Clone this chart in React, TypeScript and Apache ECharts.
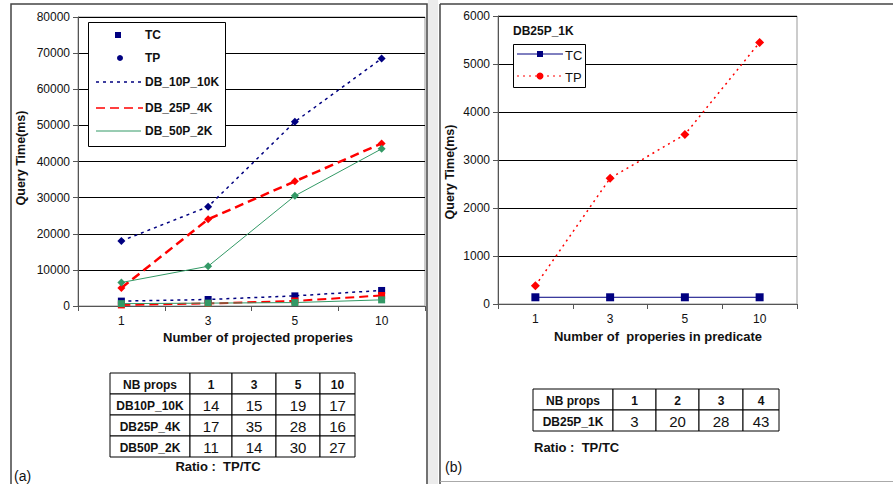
import React, { useEffect, useRef } from "react";
import * as echarts from "echarts";

// ---------- data ----------
const categoriesA = ["1", "3", "5", "10"];
const tp10P10K = [18000, 27500, 51000, 68500];
const tp25P4K = [5000, 24000, 34500, 45000];
const tp50P2K = [6500, 11000, 30500, 43500];
const tc10P10K = [1350, 1800, 2800, 4300];
const tc25P4K = [300, 700, 1400, 2900];
const tc50P2K = [650, 800, 950, 1700];

const categoriesB = ["1", "3", "5", "10"];
const tcB = [140, 140, 140, 140];
const tpB = [380, 2620, 3530, 5450];

const tableAHeader = ["NB props", "1", "3", "5", "10"];
const tableARowNames = ["DB10P_10K", "DB25P_4K", "DB50P_2K"];
const tableAValues = [
  [14, 15, 19, 17],
  [17, 35, 28, 16],
  [11, 14, 30, 27],
];
const tableBHeader = ["NB props", "1", "2", "3", "4"];
const tableBRowNames = ["DB25P_1K"];
const tableBValues = [[3, 20, 28, 43]];

// ---------- styles ----------
const FONT = "Arial, 'Liberation Sans', sans-serif";
const NAVY = "#000080";
const RED = "#ff0000";
const GREEN = "#339966";
const DOT = [3, 4];
const DASH = [9, 5];

function txt(x: number, y: number, text: string, opts: any = {}) {
  return {
    type: "text",
    x,
    y,
    rotation: opts.rotation || 0,
    z: 10,
    style: {
      text,
      fill: opts.fill || "#111",
      fontFamily: FONT,
      fontSize: opts.fontSize || 12,
      fontWeight: opts.bold ? "bold" : "normal",
      align: opts.align || "left",
      verticalAlign: "middle",
    },
  };
}

function line(x1: number, y1: number, x2: number, y2: number, stroke: string, lineWidth = 1, lineDash?: number[]) {
  return {
    type: "line",
    z: 10,
    shape: { x1, y1, x2, y2 },
    style: { stroke, lineWidth, lineDash: lineDash || null },
  };
}

function table(colX: number[], rowY: number[], header: string[], rowNames: string[], values: number[][]) {
  const els: any[] = [];
  const nRows = rowNames.length + 1;
  for (let r = 0; r < nRows; r++) {
    for (let c = 0; c < header.length; c++) {
      const x0 = colX[c], x1 = colX[c + 1], y0 = rowY[r], y1 = rowY[r + 1];
      els.push({
        type: "rect",
        z: 10,
        shape: { x: x0, y: y0, width: x1 - x0, height: y1 - y0 },
        style: { fill: "#fff", stroke: "#000", lineWidth: 1 },
      });
      let t: string;
      let bold = true;
      let fs = 12;
      if (r === 0) t = header[c];
      else if (c === 0) t = rowNames[r - 1];
      else {
        t = String(values[r - 1][c - 1]);
        bold = false;
        fs = 15;
      }
      els.push(txt((x0 + x1) / 2, (y0 + y1) / 2 + 1, t, { align: "center", bold, fontSize: fs }));
    }
  }
  return els;
}

export default function App() {
  const ref = useRef<HTMLDivElement>(null);

  useEffect(() => {
    document.body.style.margin = "0";
    const chart = echarts.init(ref.current!, null, { renderer: "svg" });

    const axisLabel = { color: "#111", fontFamily: FONT, fontSize: 12 };

    const graphic: any[] = [
      // panel frames
      { type: "rect", z: 0, shape: { x: 428, y: 0, width: 10, height: 484 }, style: { fill: "#ececec" } },
      { type: "rect", z: 1, shape: { x: 11, y: 4, width: 416, height: 500 }, style: { fill: "none", stroke: "#444", lineWidth: 1.5 } },
      line(440, 4, 893, 4, "#444", 1.5),
      line(440, 4, 440, 484, "#444", 1.5),
      line(440, 481.5, 893, 481.5, "#aaa", 1),

      // axis titles
      txt(21, 158, "Query Time(ms)", { bold: true, fontSize: 12.5, rotation: Math.PI / 2, align: "center" }),
      txt(258, 337.5, "Number of projected properies", { bold: true, fontSize: 13, align: "center" }),
      txt(450, 172, "Query Time(ms)", { bold: true, fontSize: 12.5, rotation: Math.PI / 2, align: "center" }),
      txt(658, 336, "Number of  properies in predicate", { bold: true, fontSize: 13, align: "center" }),

      // left legend
      { type: "rect", z: 9, shape: { x: 88.5, y: 22.5, width: 137, height: 124 }, style: { fill: "#fff", stroke: "#000", lineWidth: 1 } },
      { type: "rect", z: 10, shape: { x: 115, y: 32, width: 6, height: 6 }, style: { fill: NAVY } },
      txt(145, 35, "TC", { bold: true }),
      { type: "circle", z: 10, shape: { cx: 120, cy: 58, r: 3 }, style: { fill: NAVY } },
      txt(145, 58, "TP", { bold: true }),
      line(96, 82, 141, 82, NAVY, 1.5, DOT),
      txt(145, 82, "DB_10P_10K", { bold: true }),
      line(96, 108, 143, 108, RED, 1.5, DASH),
      txt(145, 108, "DB_25P_4K", { bold: true }),
      line(96, 131, 141, 131, GREEN, 1),
      txt(145, 131, "DB_50P_2K", { bold: true }),

      // right legend
      txt(513, 31, "DB25P_1K", { bold: true }),
      { type: "rect", z: 9, shape: { x: 513.5, y: 44.5, width: 72, height: 43 }, style: { fill: "#fff", stroke: "#000", lineWidth: 1 } },
      line(517, 54, 563, 54, NAVY, 1),
      { type: "rect", z: 10, shape: { x: 537, y: 51, width: 6, height: 6 }, style: { fill: NAVY } },
      txt(565, 55, "TC", { fontSize: 13 }),
      line(517, 76, 563, 76, RED, 1.2, [2, 4]),
      { type: "circle", z: 10, shape: { cx: 540, cy: 76, r: 3.5 }, style: { fill: RED } },
      txt(565, 77, "TP", { fontSize: 13 }),

      // tables
      ...table([110, 190, 232, 276, 320, 355], [373, 394, 415, 436, 457], tableAHeader, tableARowNames, tableAValues),
      txt(218, 466, "Ratio :  TP/TC", { bold: true, fontSize: 13, align: "center" }),
      txt(14, 476, "(a)", { fontSize: 14 }),
      ...table([533, 613, 656, 699, 743, 779], [389, 410, 431], tableBHeader, tableBRowNames, tableBValues),
      txt(534, 447, "Ratio :  TP/TC", { bold: true, fontSize: 13 }),
      txt(445, 467, "(b)", { fontSize: 14 }),
    ];

    const xAxisCommon = {
      type: "category",
      boundaryGap: true,
      axisLine: { lineStyle: { color: "#555", width: 1 } },
      axisTick: { show: true, length: 5, lineStyle: { color: "#555" } },
      axisLabel: { ...axisLabel, margin: 9 },
    };
    const yAxisCommon = {
      type: "value",
      min: 0,
      axisLine: { show: true, lineStyle: { color: "#555", width: 1 } },
      axisTick: { show: true, length: 5, lineStyle: { color: "#555" } },
      axisLabel: { ...axisLabel, margin: 8, formatter: (v: number) => String(v) },
      splitLine: { show: true, lineStyle: { color: "#000", width: 1 } },
    };

    const mk = (name: string, data: number[], color: string, dash: any, width: number, symbol: string, size: number, xi: number) => ({
      name,
      type: "line",
      xAxisIndex: xi,
      yAxisIndex: xi,
      data,
      symbol,
      symbolSize: size,
      showSymbol: true,
      itemStyle: { color },
      lineStyle: { color, width, type: dash },
      z: 3,
    });

    chart.setOption({
      animation: false,
      backgroundColor: "#fff",
      grid: [
        { left: 78, top: 17, width: 347, height: 289, show: true, borderColor: "#999", borderWidth: 1, backgroundColor: "#fff" },
        { left: 498, top: 16, width: 299, height: 288, show: true, borderColor: "#999", borderWidth: 1, backgroundColor: "#fff" },
      ],
      xAxis: [
        { ...xAxisCommon, gridIndex: 0, data: categoriesA },
        { ...xAxisCommon, gridIndex: 1, data: categoriesB },
      ],
      yAxis: [
        { ...yAxisCommon, gridIndex: 0, max: 80000, interval: 10000 },
        { ...yAxisCommon, gridIndex: 1, max: 6000, interval: 1000 },
      ],
      series: [
        mk("TC DB_10P_10K", tc10P10K, NAVY, DOT, 1.5, "rect", 7, 0),
        mk("TC DB_25P_4K", tc25P4K, RED, DASH, 2, "rect", 7, 0),
        mk("TC DB_50P_2K", tc50P2K, GREEN, "solid", 1, "rect", 7, 0),
        mk("TP DB_10P_10K", tp10P10K, NAVY, DOT, 1.5, "diamond", 8, 0),
        mk("TP DB_25P_4K", tp25P4K, RED, DASH, 2.5, "diamond", 8, 0),
        mk("TP DB_50P_2K", tp50P2K, GREEN, "solid", 1, "diamond", 8, 0),
        mk("TC", tcB, NAVY, "solid", 1, "rect", 8, 1),
        mk("TP", tpB, RED, [2, 4], 1.5, "diamond", 9, 1),
      ],
      graphic,
    });

    return () => chart.dispose();
  }, []);

  return <div ref={ref} style={{ position: "absolute", left: 0, top: 0, width: 893, height: 484 }} />;
}
